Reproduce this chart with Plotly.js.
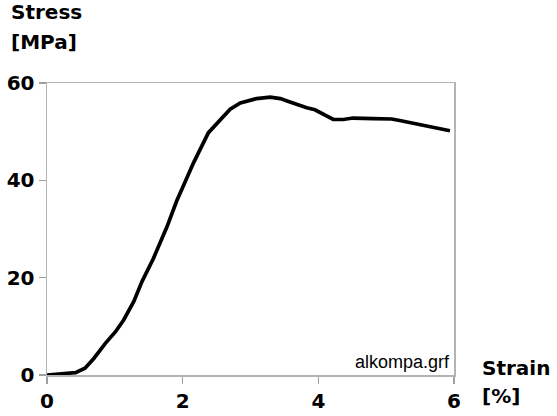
<!DOCTYPE html>
<html>
<head>
<meta charset="utf-8">
<script src="https://cdn.plot.ly/plotly-3.0.1.min.js"></script>
<style>html,body{margin:0;padding:0;background:#fff}#chart{width:557px;height:416px}</style>
</head>
<body>
<div id="chart"></div>
<script>
const strain = [0, 0.42, 0.56, 0.69, 0.86, 1.01, 1.13, 1.28, 1.40, 1.57, 1.77, 1.91, 2.05, 2.16, 2.38, 2.55, 2.70, 2.85, 3.09, 3.29, 3.44, 3.56, 3.68, 3.83, 3.95, 4.10, 4.22, 4.37, 4.51, 4.81, 5.08, 5.20, 5.37, 5.55, 5.77, 5.94];
const stress = [0, 0.5, 1.4, 3.4, 6.5, 8.9, 11.3, 15.1, 19.2, 24.0, 30.5, 35.7, 40.1, 43.6, 49.8, 52.5, 54.6, 55.9, 56.8, 57.1, 56.8, 56.2, 55.6, 54.9, 54.5, 53.5, 52.5, 52.5, 52.8, 52.7, 52.6, 52.3, 51.8, 51.4, 50.8, 50.2];
const xTicks = [0, 2, 4, 6];
const yTicks = [0, 20, 40, 60];

const boldFont = {family: 'DejaVu Sans', size: 20, color: '#000', weight: 'bold'};
const trace = {
  x: strain, y: stress, type: 'scatter', mode: 'lines',
  line: {color: '#000', width: 3.7}, hoverinfo: 'skip'
};
const axisCommon = {
  showgrid: false, zeroline: false, showline: true, mirror: true,
  linecolor: '#b4b4b4', linewidth: 1.5, ticks: 'outside', ticklen: 7,
  tickcolor: '#a0a0a0', tickwidth: 1.5, tickfont: boldFont
};
const layout = {
  width: 557, height: 416,
  margin: {l: 47, r: 103, t: 83, b: 41},
  paper_bgcolor: '#fff', plot_bgcolor: '#fff', showlegend: false,
  xaxis: Object.assign({}, axisCommon, {range: [0, 6], tickvals: xTicks, ticktext: xTicks.map(String)}),
  yaxis: Object.assign({}, axisCommon, {range: [0, 60], tickvals: yTicks, ticktext: yTicks.map(String)}),
  annotations: [
    {text: 'Stress', xref: 'paper', yref: 'paper', x: (9 - 47) / 407, y: (375 - 12) / 292, xanchor: 'left', yanchor: 'middle', showarrow: false, font: boldFont},
    {text: '[MPa]', xref: 'paper', yref: 'paper', x: (9 - 47) / 407, y: (375 - 42) / 292, xanchor: 'left', yanchor: 'middle', showarrow: false, font: boldFont},
    {text: 'Strain', xref: 'paper', yref: 'paper', x: (480 - 47) / 407, y: (375 - 368) / 292, xanchor: 'left', yanchor: 'middle', showarrow: false, font: boldFont},
    {text: '[%]', xref: 'paper', yref: 'paper', x: (480 - 47) / 407, y: (375 - 396) / 292, xanchor: 'left', yanchor: 'middle', showarrow: false, font: boldFont},
    {text: 'alkompa.grf', xref: 'paper', yref: 'paper', x: (452 - 47) / 407, y: (375 - 362) / 292, xanchor: 'right', yanchor: 'middle', showarrow: false, font: {family: 'Liberation Sans, Arial, sans-serif', size: 18, color: '#000'}}
  ]
};
Plotly.newPlot('chart', [trace], layout, {staticPlot: true, displayModeBar: false});
</script>
</body>
</html>
